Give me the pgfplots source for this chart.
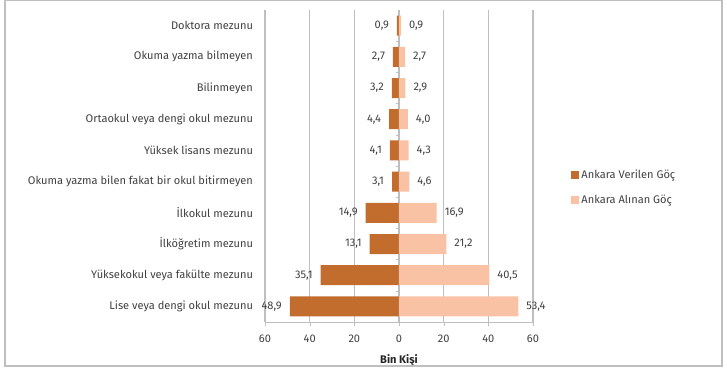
\documentclass[border=0pt]{standalone}
\usepackage{fontspec}
\setmainfont{Fira Sans}
\usepackage{pgfplots}
\usepackage{pgfplotstable}
\pgfplotsset{compat=1.18}

\definecolor{verilen}{HTML}{C26C2D}
\definecolor{alinan}{HTML}{F9C2A5}
\definecolor{txt}{HTML}{404040}
\definecolor{gridc}{HTML}{BFBFBF}

% y: 10 = top row
\pgfplotstableread{
y  ver  ali
10 0.9  0.9
9  2.7  2.7
8  3.2  2.9
7  4.4  4.0
6  4.1  4.3
5  3.1  4.6
4  14.9 16.9
3  13.1 21.2
2  35.1 40.5
1  48.9 53.4
}\goc

\begin{document}
\begin{tikzpicture}[font=\fontsize{8.3pt}{10pt}\selectfont, color=txt]
\begin{axis}[
  name=ax,
  scale only axis,
  width=201pt, height=234pt,
  xbar, bar width=15pt, bar shift=0pt,
  xmin=-60, xmax=60, ymin=0.5, ymax=10.5,
  xtick={-60,-40,-20,0,20,40,60},
  xticklabels={60,40,20,0,20,40,60},
  ytick={1,...,10},
  yticklabels={Lise veya dengi okul mezunu, Yüksekokul veya fakülte mezunu, İlköğretim mezunu, İlkokul mezunu, Okuma yazma bilen fakat bir okul bitirmeyen, Yüksek lisans mezunu, Ortaokul veya dengi okul mezunu, Bilinmeyen, Okuma yazma bilmeyen, Doktora mezunu},
  /pgf/number format/assume math mode=true,
  separate axis lines,
  axis x line*=bottom, axis y line*=left,
  x axis line style={gridc, -},
  y axis line style={draw=none},
  ytick style={draw=none},
  xtick style={gridc},
  xtick align=outside, major tick length=3pt,
  xmajorgrids, grid style={gridc, line width=0.8pt},
  yticklabel style={xshift=-2.5pt, text=txt},
  xticklabel style={text=txt, yshift=-3pt},
  xlabel={\textbf{Bin Kişi}},
  xlabel style={yshift=-2pt, text=black!85},
  point meta=explicit,
  nodes near coords={\pgfmathprintnumber[fixed, fixed zerofill, precision=1, use comma, assume math mode=true]{\pgfplotspointmeta}},
  nodes near coords style={text=txt},
  legend style={at={(1.125,0.43)}, anchor=west, draw=none, fill=none, row sep=7pt,
    font=\fontsize{8.3pt}{10pt}\selectfont, text=txt},
  legend cell align=left,
  legend image code/.code={\fill[#1] (0pt,-3pt) rectangle (6pt,3pt);},
  clip=false,
]
\addplot[fill=verilen, draw=none, every node near coord/.append style={anchor=east, xshift=-2.5pt}]
  table[x expr=-\thisrow{ver}, y=y, meta=ver]{\goc};
\addlegendentry{Ankara Verilen Göç}
\addplot[fill=alinan, draw=none, every node near coord/.append style={anchor=west, xshift=2.5pt}]
  table[x=ali, y=y, meta=ali]{\goc};
\addlegendentry{Ankara Alınan Göç}
\foreach \k in {1.5,2.5,...,9.5} {
  \edef\tmp{\noexpand\draw[gridc] (axis cs:0,\k) -- ++(-2pt,0pt);}\tmp
}
\end{axis}
\draw[gridc, line width=0.8pt] ([xshift=-195pt, yshift=7.1pt]ax.north west) rectangle ([xshift=141.75pt, yshift=-33pt]ax.south east);
\path ([xshift=-198.75pt, yshift=7.5pt]ax.north west) ([xshift=145.5pt, yshift=-37.5pt]ax.south east);
\end{tikzpicture}
\end{document}
